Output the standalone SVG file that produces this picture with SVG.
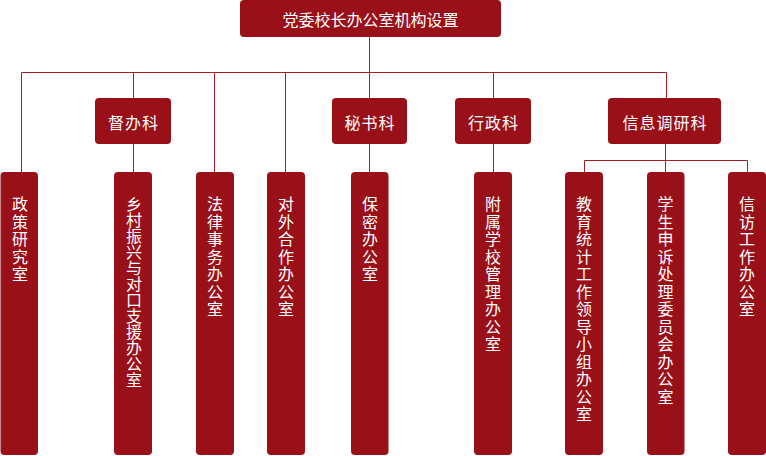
<svg xmlns="http://www.w3.org/2000/svg" width="766" height="456" viewBox="0 0 766 456">
<style>
.box{fill:#9a1019;}
.ln{stroke:#a51c26;stroke-width:1;fill:none;}
.t{fill:#ffffff;font-family:"Noto Sans CJK SC","Noto Sans",sans-serif;}
.h{font-size:16px;text-anchor:middle;dominant-baseline:central;}
.m{font-size:16px;letter-spacing:1px;text-anchor:middle;dominant-baseline:central;}
.v{font-size:16px;writing-mode:vertical-rl;letter-spacing:1.5px;}
</style>
<g id="connectors">
<path class="ln" d="M369.5 37V72.5M21.5 72.5H666.5M21.5 72.5V172M133.5 72.5V98M214.5 72.5V172M285.5 72.5V172M369.5 72.5V98M493.5 72.5V98M666.5 72.5V98"/>
<path class="ln" d="M133.5 144V172M369.5 144V172M493.5 144V172M665.5 144V172M584.5 160.5H747.5M584.5 160.5V172M747.5 160.5V172"/>
</g>
<g id="root"><rect class="box" x="240" y="0" width="261" height="37" rx="4"/><text class="t h" x="370.5" y="18.5">党委校长办公室机构设置</text></g>
<g id="duban"><rect class="box" x="95" y="98" width="76" height="46" rx="4"/><text class="t m" x="133.5" y="121.5">督办科</text></g>
<g id="mishu"><rect class="box" x="332" y="98" width="75" height="46" rx="4"/><text class="t m" x="370" y="121.5">秘书科</text></g>
<g id="xingzheng"><rect class="box" x="455" y="98" width="76" height="46" rx="4"/><text class="t m" x="493.5" y="121.5">行政科</text></g>
<g id="xinxi"><rect class="box" x="608" y="98" width="113" height="46" rx="4"/><text class="t m" x="665" y="121.5">信息调研科</text></g>
<g id="n1"><rect class="box" x="0.5" y="172" width="37.5" height="283" rx="4"/><text class="t v" x="20" y="196">政策研究室</text></g>
<g id="n2"><rect class="box" x="114" y="172" width="38" height="283" rx="4"/><text class="t v" x="134" y="196" style="letter-spacing:0px">乡村振兴与对口支援办公室</text></g>
<g id="n3"><rect class="box" x="196" y="172" width="38" height="283" rx="4"/><text class="t v" x="215" y="196">法律事务办公室</text></g>
<g id="n4"><rect class="box" x="267" y="172" width="38" height="283" rx="4"/><text class="t v" x="286" y="196">对外合作办公室</text></g>
<g id="n5"><rect class="box" x="351" y="172" width="37.5" height="283" rx="4"/><text class="t v" x="370" y="196">保密办公室</text></g>
<g id="n6"><rect class="box" x="474" y="172" width="38" height="283" rx="4"/><text class="t v" x="493" y="196">附属学校管理办公室</text></g>
<g id="n7"><rect class="box" x="565" y="172" width="38" height="283" rx="4"/><text class="t v" x="584" y="196">教育统计工作领导小组办公室</text></g>
<g id="n8"><rect class="box" x="647" y="172" width="37.5" height="283" rx="4"/><text class="t v" x="665.5" y="196">学生申诉处理委员会办公室</text></g>
<g id="n9"><rect class="box" x="728" y="172" width="38" height="283" rx="4"/><text class="t v" x="747" y="196">信访工作办公室</text></g>
</svg>
